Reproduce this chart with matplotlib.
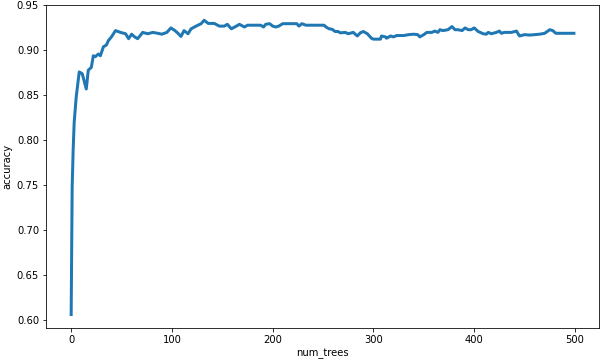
import matplotlib
matplotlib.use('Agg')
import matplotlib.pyplot as plt

# num_trees vs accuracy
num_trees = [0, 1, 2, 3, 5, 8, 11, 15, 17, 20, 22, 24, 27, 29, 32, 35, 37, 40, 42, 44,
             49, 54, 57, 60, 63, 66, 71, 76, 81, 86, 90, 95, 99, 103, 106, 109, 112, 116,
             119, 124, 129, 132, 136, 142, 147, 152, 155, 159, 164, 167, 172, 175, 188,
             191, 193, 197, 200, 203, 206, 210, 224, 226, 229, 233, 251, 253, 256, 259,
             262, 265, 267, 272, 275, 280, 284, 287, 290, 294, 298, 300, 307, 308, 312,
             313, 317, 320, 323, 330, 335, 340, 344, 346, 350, 353, 358, 361, 364, 366,
             369, 374, 378, 381, 384, 388, 391, 394, 397, 400, 404, 409, 412, 414, 417,
             422, 425, 427, 430, 437, 442, 445, 450, 455, 460, 465, 470, 475, 478, 481, 499]
accuracy = [0.606, 0.748, 0.790, 0.820, 0.848, 0.876, 0.874, 0.857, 0.878, 0.881, 0.894,
            0.893, 0.896, 0.894, 0.904, 0.906, 0.911, 0.915, 0.9185, 0.922,
            0.920, 0.9185, 0.913, 0.918, 0.915, 0.913, 0.920, 0.9185, 0.920, 0.919, 0.918,
            0.920, 0.925, 0.922, 0.919, 0.9155, 0.922, 0.9185,
            0.924, 0.927, 0.9297, 0.9335, 0.930, 0.930, 0.927, 0.927, 0.929, 0.924, 0.927,
            0.929, 0.926, 0.928, 0.928,
            0.926, 0.929, 0.9297, 0.927, 0.926, 0.927, 0.9297, 0.9297, 0.927, 0.9297, 0.928,
            0.928, 0.926, 0.924, 0.9235,
            0.921, 0.921, 0.9195, 0.920, 0.9185, 0.920, 0.916, 0.9195, 0.921, 0.9185, 0.9135,
            0.9125, 0.9125, 0.916, 0.915,
            0.9135, 0.916, 0.915, 0.9165, 0.9165, 0.9175, 0.918, 0.9175, 0.915, 0.9175, 0.920,
            0.920, 0.9215, 0.920, 0.923,
            0.922, 0.923, 0.9265, 0.923, 0.923, 0.922, 0.925, 0.923, 0.923, 0.925, 0.921,
            0.9185, 0.918, 0.920, 0.9185,
            0.920, 0.9215, 0.919, 0.920, 0.920, 0.9215, 0.916, 0.9175, 0.917, 0.9175, 0.918,
            0.919, 0.923, 0.922, 0.919, 0.919]

fig = plt.figure(figsize=(604 / 72, 362 / 72), dpi=72)
ax = fig.add_axes([0.0762, 0.0939, 0.9156, 0.8923])
ax.plot(num_trees, accuracy, linewidth=3, color='#1f77b4')
ax.set_xlabel('num_trees')
ax.set_ylabel('accuracy')
ax.set_xticks([0, 100, 200, 300, 400, 500])
ax.set_ylim(0.591, 0.9505)
fig.savefig('out.png', dpi=72)
